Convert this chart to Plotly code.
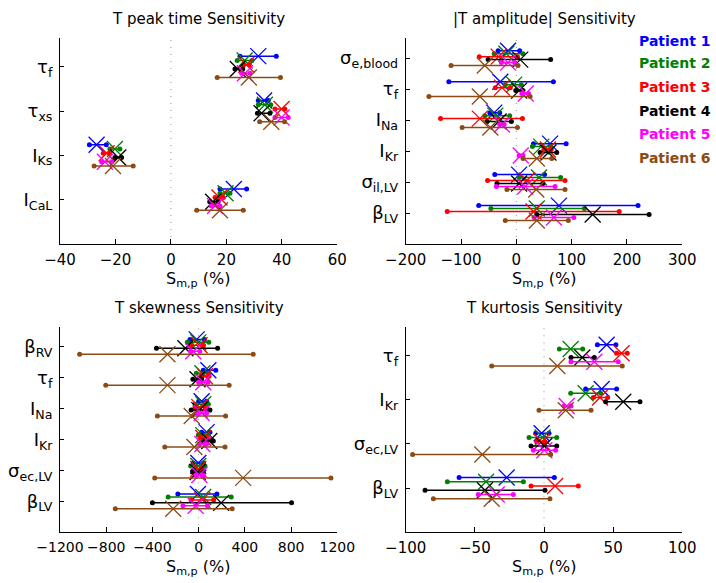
import plotly.graph_objects as go

FONT = "DejaVu Sans"
W, H = 716, 583

PATIENTS = ["Patient 1", "Patient 2", "Patient 3", "Patient 4", "Patient 5", "Patient 6"]
COLORS = ["rgb(0,0,255)", "rgb(0,128,0)", "rgb(255,0,0)", "rgb(0,0,0)",
          "rgb(255,0,255)", "rgb(140,75,20)"]

# ---- Panel 1: T peak time ----
PEAK_TITLE = "T peak time Sensitivity"
PEAK_CATS = ["τ<sub>f</sub>", "τ<sub>xs</sub>", "I<sub>Ks</sub>", "I<sub>CaL</sub>"]
PEAK_TICKS = [-40, -20, 0, 20, 40, 60]
PEAK_MIN = [[24.9, 31.5, -29.4, 17.7], [23.9, 31.5, -22.0, 17.7], [26.1, 37.5, -24.4, 15.9],
            [23.1, 31.2, -20.2, 14.0], [25.5, 37.5, -25.0, 14.6], [16.7, 32.0, -27.7, 9.3]]
PEAK_MAX = [[38.0, 35.1, -23.3, 27.3], [29.2, 36.0, -18.4, 21.3], [28.3, 41.1, -22.2, 18.9],
            [25.9, 35.7, -17.8, 17.0], [28.5, 42.3, -21.4, 17.7], [39.5, 41.0, -13.6, 26.1]]
PEAK_MEAN = [[31.5, 33.6, -26.8, 22.7], [26.6, 33.9, -20.2, 19.7], [27.2, 39.9, -23.2, 17.5],
             [24.1, 32.7, -19.0, 15.2], [26.7, 39.9, -23.8, 15.9], [28.1, 36.2, -20.9, 17.7]]

# ---- Panel 2: |T amplitude| ----
AMP_TITLE = "|T amplitude| Sensitivity"
AMP_CATS = ["σ<sub>e,blood</sub>", "τ<sub>f</sub>", "I<sub>Na</sub>", "I<sub>Kr</sub>",
            "σ<sub>il,LV</sub>", "β<sub>LV</sub>"]
AMP_TICKS = [-200, -100, 0, 100, 200, 300]
AMP_MIN = [[-33, -122, -48, 31, -39, -68], [-40, -20, -57, 29, 5, -46],
           [-67, -38, -137, 50, -52, -125], [-51, -1, -53, 43, -35, 37],
           [-27, 10, -30, 5, -36, 32], [-118, -158, -98, 12, -17, -20]]
AMP_MAX = [[6, 67, -30, 90, 51, 220], [12, 9, -12, 62, 80, 123],
           [2, -11, 11, 63, 88, 186], [62, 12, -9, 73, 48, 240],
           [-3, 22, -22, 12, 70, 104], [3, 25, 2, 64, 88, 94]]
AMP_MEAN = [[-15, -29, -40, 61, 5, 77], [-18, -4, -38, 45, 41, 37],
            [-32, -26, -66, 57, 19, 31], [7, 5, -32, 58, 5, 138],
            [-15, 17, -26, 8, 16, 68], [-57, -66, -47, 37, 36, 37]]

# ---- Panel 3: T skewness ----
SKEW_TITLE = "T skewness Sensitivity"
SKEW_CATS = ["β<sub>RV</sub>", "τ<sub>f</sub>", "I<sub>Na</sub>", "I<sub>Kr</sub>",
             "σ<sub>ec,LV</sub>", "β<sub>LV</sub>"]
SKEW_TICKS = [-1200, -800, -400, 0, 400, 800, 1200]
SKEW_MIN = [[-75, 40, 0, 26, -46, -180], [-98, -20, -32, -3, -69, -264],
            [-62, 17, -32, 12, -32, -65], [-365, -50, -65, 40, -52, -400],
            [-70, 0, -12, 6, -23, -136], [-1030, -804, -357, -293, -380, -721]]
SKEW_MAX = [[50, 148, 69, 98, 40, 158], [88, 90, 84, 84, 55, 282],
            [42, 90, 55, 84, 26, 130], [164, 25, 98, 127, 40, 804],
            [10, 80, 69, 69, 40, 76], [472, 264, 233, 228, 1145, 290]]
SKEW_MEAN = [[-17, 84, 26, 69, -3, -6], [-3, 32, 40, 40, -3, 39],
             [8, 55, 6, 40, -3, 32], [-115, -10, 6, 92, -9, 195],
             [-47, 40, 26, 32, 6, -26], [-270, -270, -60, -37, 385, -220]]

# ---- Panel 4: T kurtosis ----
KURT_TITLE = "T kurtosis Sensitivity"
KURT_CATS = ["τ<sub>f</sub>", "I<sub>Kr</sub>", "σ<sub>ec,LV</sub>", "β<sub>LV</sub>"]
KURT_TICKS = [-100, -50, 0, 50, 100]
KURT_MIN = [[38.6, 30.1, -6.0, -61.4], [11.1, 19.3, -10.8, -69.9], [52.5, 35.7, -5.3, -9.4],
            [19.5, 44.6, -9.4, -86.0], [19.5, 14.5, -7.7, -47.5], [-37.8, -3.6, -95.0, -80.0]]
KURT_MAX = [[52.0, 52.5, 3.6, 7.5], [28.0, 41.0, 9.2, -14.9], [60.2, 46.0, 0.7, 24.8],
            [36.4, 69.4, 9.2, 0.7], [53.7, 19.5, 8.4, -22.2], [56.6, 34.0, 4.8, 4.3]]
KURT_MEAN = [[45.3, 41.7, -1.7, -27.0], [19.3, 30.1, -1.0, -41.9], [56.1, 40.5, -1.7, 8.0],
             [27.7, 57.3, 0.2, -42.7], [36.4, 16.4, 0.2, -34.2], [9.6, 15.7, -44.6, -37.8]]

XLABEL = "S<sub>m,p</sub> (%)"

# panel boxes in pixels: (left, right, top, bottom)
BOXES = [(60, 337.3, 38, 244), (405.7, 682.3, 38, 244),
         (60, 337.3, 326.7, 532.3), (405.7, 682.3, 326.7, 532.3)]
XTICK_SIZES = [15, 15, 14, 15]
PANELS = [
    (PEAK_TITLE, PEAK_CATS, PEAK_TICKS, PEAK_MIN, PEAK_MAX, PEAK_MEAN),
    (AMP_TITLE, AMP_CATS, AMP_TICKS, AMP_MIN, AMP_MAX, AMP_MEAN),
    (SKEW_TITLE, SKEW_CATS, SKEW_TICKS, SKEW_MIN, SKEW_MAX, SKEW_MEAN),
    (KURT_TITLE, KURT_CATS, KURT_TICKS, KURT_MIN, KURT_MAX, KURT_MEAN),
]


def px_x(p):
    return p / W


def px_y(p):
    return 1 - p / H


fig = go.Figure()
annotations = []
shapes = []
STEP = 0.096

for k, (title, cats, ticks, mins, maxs, means) in enumerate(PANELS):
    sfx = "" if k == 0 else str(k + 1)
    xa, ya = "x" + sfx, "y" + sfx
    n = len(cats)
    for i in range(len(PATIENTS)):
        off = (i - 2.5) * STEP
        xs, ys = [], []
        for c in range(n):
            yv = c + 1 + off
            xs += [mins[i][c], maxs[i][c], None]
            ys += [yv, yv, None]
        fig.add_trace(go.Scatter(
            x=xs, y=ys, mode="lines+markers", xaxis=xa, yaxis=ya,
            line=dict(color=COLORS[i], width=1.5),
            marker=dict(color=COLORS[i], size=5, symbol="circle"),
            showlegend=False, hoverinfo="skip", cliponaxis=False))
        fig.add_trace(go.Scatter(
            x=means[i], y=[c + 1 + off for c in range(n)], mode="markers",
            xaxis=xa, yaxis=ya,
            marker=dict(symbol="x-thin-open", size=16, color=COLORS[i],
                        line=dict(color=COLORS[i], width=1.3)),
            showlegend=False, hoverinfo="skip", cliponaxis=False))

    l, r, t, b = BOXES[k]
    xkey = "xaxis" + sfx
    ykey = "yaxis" + sfx
    fig.layout[xkey] = dict(
        domain=[px_x(l), px_x(r)], anchor=ya, range=[ticks[0], ticks[-1]],
        tickvals=ticks, ticks="inside", ticklen=5, tickcolor="black",
        showline=True, linecolor="black", linewidth=1, showgrid=False,
        zeroline=False, automargin=False, tickangle=0,
        tickfont=dict(family=FONT, size=XTICK_SIZES[k], color="black"),
        ticklabelstandoff=2)
    fig.layout[ykey] = dict(
        domain=[px_y(b), px_y(t)], anchor=xa, range=[n + 1, 0.35],
        tickvals=list(range(1, n + 1)), ticktext=cats, ticks="inside",
        ticklen=4, tickcolor="black", showline=True, linecolor="black",
        linewidth=1, showgrid=False, zeroline=False, automargin=False,
        tickfont=dict(family=FONT, size=18, color="black"),
        ticklabelstandoff=3)
    shapes.append(dict(type="line", xref=xa, yref=ya + " domain", x0=0, x1=0,
                       y0=0, y1=1, layer="below",
                       line=dict(color="rgb(150,150,150)", width=1, dash="1px,6px")))
    cx = (l + r) / 2
    annotations.append(dict(text=title, xref="paper", yref="paper", x=px_x(cx),
                            y=px_y(t - 19), xanchor="center", yanchor="middle",
                            showarrow=False,
                            font=dict(family=FONT, size=15, color="black")))
    annotations.append(dict(text=XLABEL, xref="paper", yref="paper", x=px_x(cx),
                            y=px_y(b + 23), xanchor="center", yanchor="top",
                            showarrow=False,
                            font=dict(family=FONT, size=16, color="black")))

LEG_Y = [40.7, 63.5, 87, 110.7, 134.5, 158]
for i, name in enumerate(PATIENTS):
    annotations.append(dict(text="<b>" + name + "</b>", xref="paper", yref="paper",
                            x=px_x(713), y=px_y(LEG_Y[i]), xanchor="right",
                            yanchor="middle", showarrow=False,
                            font=dict(family=FONT, size=14, color=COLORS[i])))

fig.update_layout(
    template="none",
    width=W, height=H, autosize=False,
    margin=dict(l=0, r=0, t=0, b=0),
    paper_bgcolor="white", plot_bgcolor="white",
    annotations=annotations, shapes=shapes, showlegend=False,
    hovermode=False,
    font=dict(family=FONT, color="black"),
)

fig.write_html("out.html",
               config={"displayModeBar": False, "staticPlot": True},
               post_script="document.body.style.margin='0px';"
                           "document.body.style.overflow='hidden';")
